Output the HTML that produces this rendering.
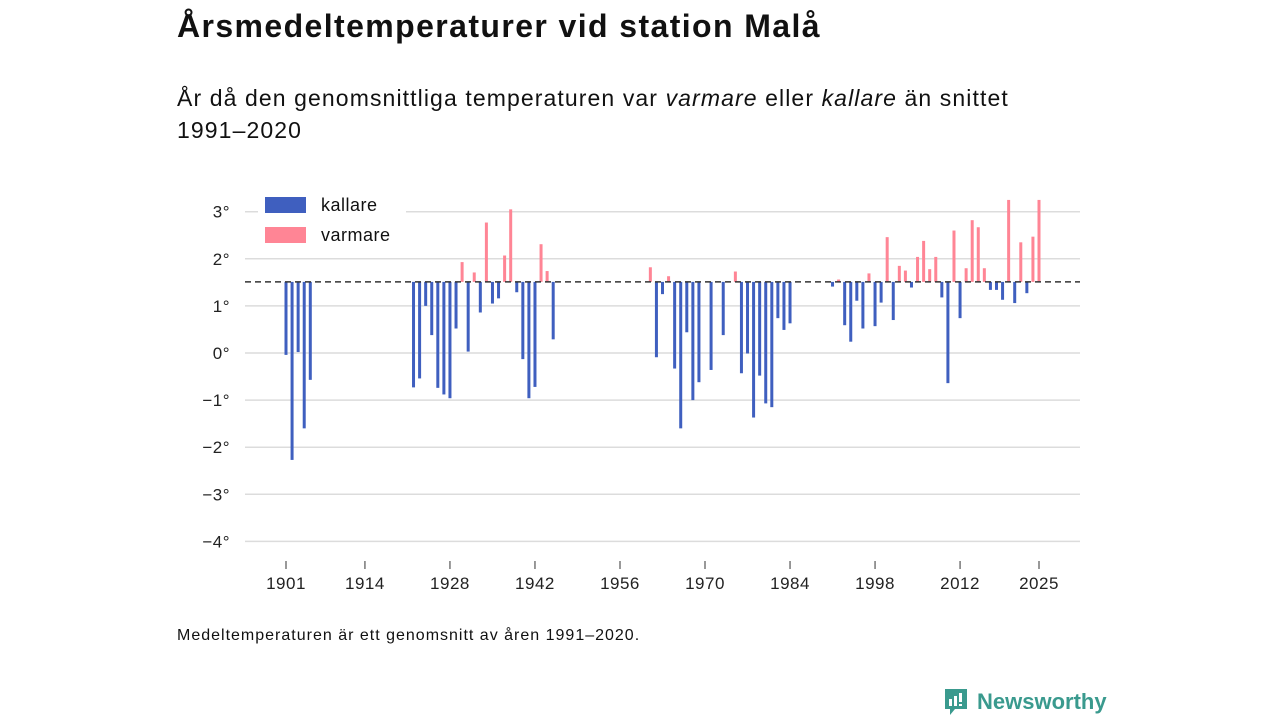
<!DOCTYPE html>
<html><head><meta charset="utf-8"><style>
body{margin:0;width:1280px;height:720px;background:#fff;font-family:"Liberation Sans","DejaVu Sans",sans-serif;color:#111;position:relative;overflow:hidden}
.t{position:absolute}
</style></head><body>
<div class="t" style="left:177px;top:8px;font-size:32px;font-weight:bold;letter-spacing:1.4px">Årsmedeltemperaturer vid station Malå</div>
<div class="t" style="left:177px;top:82px;font-size:23px;line-height:32px;width:860px;letter-spacing:1.1px">År då den genomsnittliga temperaturen var <i>varmare</i> eller <i>kallare</i> än snittet 1991–2020</div>
<div class="t" style="left:177px;top:627px;font-size:16px;letter-spacing:1px">Medeltemperaturen är ett genomsnitt av åren 1991–2020.</div>
<div class="t" style="left:943px;top:686px;height:32px;display:flex;align-items:center;color:#3a9a8e;font-size:22px;font-weight:bold">
<svg width="26" height="30" viewBox="0 0 26 30" style="margin-right:8px"><path d="M2 2h22v20H12l-5 6v-6H2z" fill="#3a9a8e"/><rect x="6" y="12" width="3" height="7" fill="#fff"/><rect x="11" y="9" width="3" height="10" fill="#fff"/><rect x="16" y="6" width="3" height="9" fill="#fff"/><rect x="16" y="17" width="3" height="2" fill="#fff"/></svg>Newsworthy</div>
<svg id="chart" width="1280" height="720" style="position:absolute;left:0;top:0"></svg>
<script>
const years=[1901,1902,1903,1904,1905,1922,1923,1924,1925,1926,1927,1928,1929,1930,1931,1932,1933,1934,1935,1936,1937,1938,1939,1940,1941,1942,1943,1944,1945,1961,1962,1963,1964,1965,1966,1967,1968,1969,1971,1973,1975,1976,1977,1978,1979,1980,1981,1982,1983,1984,1991,1992,1993,1994,1995,1996,1997,1998,1999,2000,2001,2002,2003,2004,2005,2006,2007,2008,2009,2010,2011,2012,2013,2014,2015,2016,2017,2018,2019,2020,2021,2022,2023,2024,2025];
const temps=[-0.04,-2.27,0.02,-1.6,-0.57,-0.73,-0.54,1.0,0.38,-0.74,-0.88,-0.96,0.52,1.93,0.03,1.71,0.86,2.77,1.05,1.16,2.07,3.05,1.29,-0.13,-0.96,-0.72,2.31,1.74,0.29,1.82,-0.09,1.25,1.63,-0.33,-1.6,0.44,-1.0,-0.62,-0.36,0.38,1.73,-0.43,-0.01,-1.37,-0.48,-1.07,-1.15,0.74,0.49,0.63,1.41,1.56,0.59,0.24,1.11,0.52,1.69,0.57,1.07,2.46,0.7,1.85,1.75,1.39,2.04,2.38,1.78,2.04,1.18,-0.64,2.6,0.74,1.8,2.82,2.67,1.8,1.34,1.34,1.13,3.25,1.06,2.35,1.27,2.47,3.25];
const mean=[1.51];
const yTicks=[3,2,1,0,-1,-2,-3,-4];
const xTicks=[1901,1914,1928,1942,1956,1970,1984,1998,2012,2025];
const svg=document.getElementById('chart');
const NS='http://www.w3.org/2000/svg';
const X=y=>286+(y-1901)*(1039-286)/124;
const Y=v=>353-v*47.1;
function mk(t,a){const e=document.createElementNS(NS,t);for(const k in a)e.setAttribute(k,a[k]);svg.appendChild(e);return e;}
yTicks.forEach(v=>{
 const l=mk('line',{x1:245,x2:1080,y1:Y(v),y2:Y(v),stroke:'#dcdcdc','stroke-width':1.5});
 
 
 const t=mk('text',{x:230,y:Y(v)+6,'text-anchor':'end','font-size':17,fill:'#222','letter-spacing':'0.5'});
 t.textContent=(v<0?'−'+(-v):v)+'°';
 
 
});
xTicks.forEach(yr=>{
 const l=mk('line',{x1:X(yr),x2:X(yr),y1:561,y2:569,stroke:'#333','stroke-width':1});
 
 
 const t=mk('text',{x:X(yr),y:589,'text-anchor':'middle','font-size':17,fill:'#222','letter-spacing':'0.5'});
 t.textContent=yr;
 
 
});
years.forEach((yr,i)=>{
 const v=temps[i],b=mean[0];
 const r=mk('rect',{x:X(yr)-1.5,width:3,y:Math.min(Y(v),Y(b)),height:Math.max(1,Math.abs(Y(v)-Y(b))),fill:v>=b?'#ff8595':'#3f5fbf'});
 
 
});
const d=mk('line',{x1:245,x2:1080,y1:Y(mean[0]),y2:Y(mean[0]),stroke:'#333','stroke-width':1.5,'stroke-dasharray':'6,4'});


const bg=mk('rect',{x:258,y:192,width:148,height:60,fill:'#fff'});


[['kallare','#3f5fbf',197],['varmare','#ff8595',227]].forEach(([n,c,y])=>{
 const r=mk('rect',{x:265,y:y,width:41,height:16,fill:c});
 
 
 const t=mk('text',{x:321,y:y+14,'font-size':18,fill:'#111','letter-spacing':'0.5'});
 t.textContent=n;
 
 
});
</script>
</body></html>
